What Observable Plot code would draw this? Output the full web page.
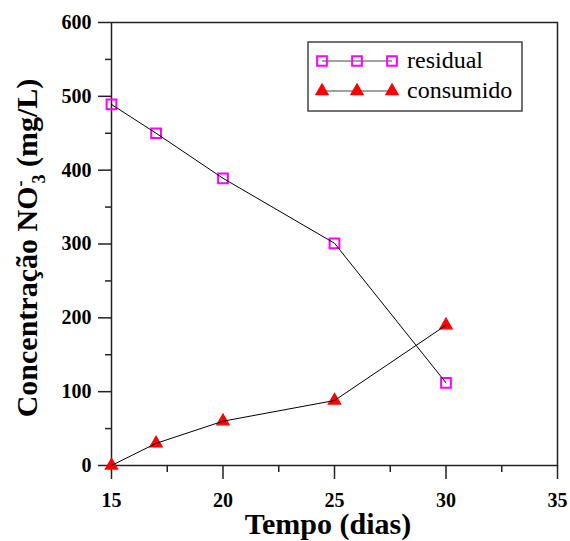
<!DOCTYPE html>
<html>
<head>
<meta charset="utf-8">
<script src="https://cdn.jsdelivr.net/npm/d3@7"></script>
<script src="https://cdn.jsdelivr.net/npm/@observablehq/plot@0.6"></script>
<style>body{margin:0}</style>
</head>
<body>
<div style="position:absolute;left:86px;top:510px;width:484px;height:31px;text-align:center;font-family:'Liberation Serif';font-size:30px;font-weight:bold;line-height:28px;color:#000">Tempo (dias)</div>
<div id="chart"></div>
<script>
// Nitrate concentration over time: residual vs consumed
const dias = [15, 17, 20, 25, 30];
const residual = [489, 450, 389, 301, 112];
const consumido = [0, 30, 60, 88, 190];

const seriesNames = ["residual", "consumido"];
const seriesColors = ["#ff00ff", "#ff0000"];
const seriesSymbols = ["square", "triangle"];

const xTicks = [15, 20, 25, 30, 35];
const xMinorTicks = [17.5, 22.5, 27.5, 32.5];
const yTicks = [0, 100, 200, 300, 400, 500, 600];
const yMinorTicks = [50, 150, 250, 350, 450, 550];

const serif = "Liberation Serif";

const resRows = dias.map((d, i) => ({dia: d, valor: residual[i]}));
const conRows = dias.map((d, i) => ({dia: d, valor: consumido[i]}));

const axisStroke = "#222";

const chart = Plot.plot({
  width: 570,
  height: 510,
  marginLeft: 111,
  marginRight: 13,
  marginTop: 22,
  marginBottom: 45,
  x: {domain: [15, 35]},
  y: {domain: [0, 600]},
  marks: [
    Plot.axisX({ticks: xMinorTicks, tickSize: 7, text: null, label: null, stroke: axisStroke, strokeWidth: 1.5}),
    Plot.axisX({ticks: xTicks, tickSize: 14, text: null, label: null, stroke: axisStroke, strokeWidth: 1.5}),
    Plot.axisY({ticks: yMinorTicks, tickSize: 6, text: null, label: null, stroke: axisStroke, strokeWidth: 1.5}),
    Plot.axisY({ticks: yTicks, tickSize: 13, text: null, label: null, stroke: axisStroke, strokeWidth: 1.5}),
    // Tick labels as text marks so the serif face is set directly on them
    Plot.text(xTicks, {x: d => d, y: 0, text: d => String(d), dy: 27, lineAnchor: "top",
                       fontFamily: serif, fontSize: 20, fontWeight: "bold", fill: "#000"}),
    Plot.text(yTicks, {x: 15, y: d => d, text: d => String(d), dx: -20, textAnchor: "end",
                       fontFamily: serif, fontSize: 20, fontWeight: "bold", fill: "#000"}),
    Plot.frame({stroke: axisStroke, strokeWidth: 1.5}),
    Plot.dot(resRows, {x: "dia", y: "valor", symbol: seriesSymbols[0], r: 5.5, fill: "none",
                       stroke: seriesColors[0], strokeWidth: 2}),
    Plot.dot(conRows, {x: "dia", y: "valor", symbol: seriesSymbols[1], r: 4.6, fill: seriesColors[1],
                       stroke: seriesColors[1], strokeWidth: 1.2}),
    Plot.line(resRows, {x: "dia", y: "valor", stroke: "#000", strokeWidth: 1}),
    Plot.line(conRows, {x: "dia", y: "valor", stroke: "#000", strokeWidth: 1})
  ]
});
chart.setAttribute("font-family", serif);
chart.style.overflow = "visible";

document.getElementById("chart").appendChild(chart);

const svg = d3.select(chart);

// Y axis title with stacked superscript charge and subscript 3
const yLab = svg.append("text")
  .attr("transform", "translate(37,248) rotate(-90)")
  .attr("text-anchor", "middle")
  .attr("font-family", serif)
  .attr("font-size", 30)
  .attr("font-weight", "bold")
  .attr("fill", "#000");
yLab.append("tspan").text("Concentração NO");
yLab.append("tspan").attr("dy", -11).attr("font-size", 18).text("-");
yLab.append("tspan").attr("dx", -3).attr("dy", 19).attr("font-size", 18).text("3");
yLab.append("tspan").attr("dy", -8).text(" (mg/L)");

// Legend box
const legend = svg.append("g");
legend.append("rect")
  .attr("x", 308).attr("y", 42).attr("width", 214).attr("height", 69)
  .attr("fill", "#fff").attr("stroke", "#444").attr("stroke-width", 1.5);

const symbolGen = {square: d3.symbolSquare, triangle: d3.symbolTriangle};
const legendR = [5.5, 4.6];
const legendFill = ["none", seriesColors[1]];
const legendSW = [2, 1.2];
seriesNames.forEach((name, i) => {
  const cy = 61 + i * 30;
  const g = legend.append("g");
  g.append("line")
    .attr("x1", 322).attr("x2", 392).attr("y1", cy).attr("y2", cy)
    .attr("stroke", "#444").attr("stroke-width", 1.2);
  [322, 357, 392].forEach(cx => {
    g.append("path")
      .attr("transform", `translate(${cx},${cy})`)
      .attr("d", d3.symbol(symbolGen[seriesSymbols[i]], legendR[i] * legendR[i] * Math.PI)())
      .attr("fill", legendFill[i])
      .attr("stroke", seriesColors[i])
      .attr("stroke-width", legendSW[i]);
  });
  g.append("text")
    .attr("x", 407).attr("y", cy + 7)
    .attr("text-anchor", "start")
    .attr("font-family", serif)
    .attr("font-size", 24)
    .attr("fill", "#000")
    .text(name);
});
</script>
</body>
</html>
